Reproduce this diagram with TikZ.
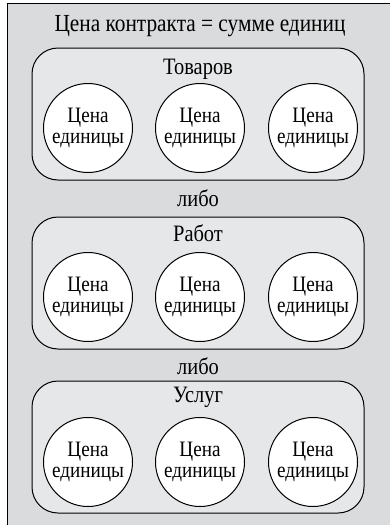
\documentclass[tikz,border=0pt]{standalone}
\usepackage{fontspec}
\setmainfont[FakeStretch=0.87]{Liberation Serif}
\definecolor{outerfill}{HTML}{DADBDC}
\definecolor{boxfill}{HTML}{E6E7E8}
\begin{document}
\begin{tikzpicture}[x=1pt,y=-1pt,
  txt/.style={font=\fontsize{23.5}{21}\selectfont, inner sep=0pt, align=center},
  group/.style={draw=black, line width=1pt, fill=boxfill, rounded corners=26pt, minimum width=332pt, minimum height=132pt, inner sep=0pt},
  unit/.style={draw=black, line width=1pt, fill=white, circle, minimum size=89pt, inner sep=0pt, align=center, font=\fontsize{22}{21}\selectfont}]
\useasboundingbox (0,0) rectangle (390,525);
\begin{scope}
\clip (0,0) rectangle (390,525);
\draw[line width=1pt, fill=outerfill] (7,3) rectangle (396,530);
\end{scope}
\node[txt, font=\fontsize{24.5}{21}\selectfont] (title) at (200,26) {Цена контракта = сумме единиц};
% group 1
\node[group] (g1) at (198,114) {};
\node[txt] (t1) at (198,69) {Товаров};
\node[unit] (c11) at (88,128) {Цена\\единицы};
\node[unit] (c12) at (200,128) {Цена\\единицы};
\node[unit] (c13) at (313,128) {Цена\\единицы};
\node[txt] (or1) at (198,198) {либо};
% group 2
\node[group] (g2) at (198,283) {};
\node[txt] (t2) at (198,233) {Работ};
\node[unit] (c21) at (88,297) {Цена\\единицы};
\node[unit] (c22) at (200,297) {Цена\\единицы};
\node[unit] (c23) at (313,297) {Цена\\единицы};
\node[txt] (or2) at (198,366) {либо};
% group 3
\node[group] (g3) at (198,447) {};
\node[txt] (t3) at (198,397) {Услуг};
\node[unit] (c31) at (88,462) {Цена\\единицы};
\node[unit] (c32) at (200,462) {Цена\\единицы};
\node[unit] (c33) at (313,462) {Цена\\единицы};
\end{tikzpicture}
\end{document}
